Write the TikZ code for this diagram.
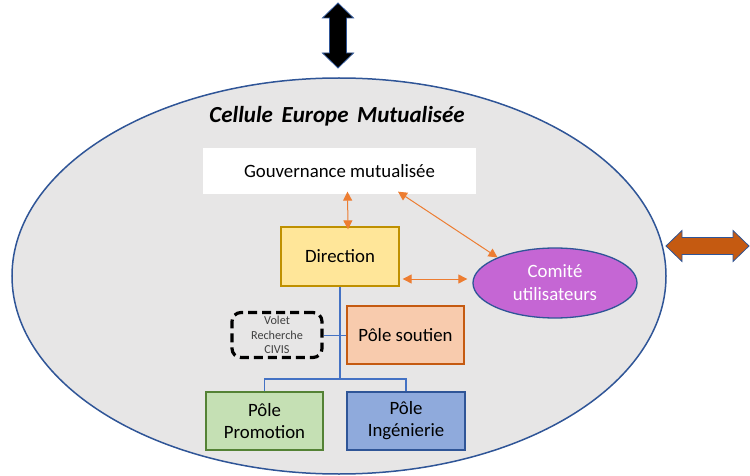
\documentclass[tikz,border=0pt]{standalone}
\usepackage{fontspec}
\setmainfont{Carlito}
\usetikzlibrary{arrows.meta,calc,shapes.geometric}
\definecolor{ellfill}{HTML}{E7E6E6}
\definecolor{ellline}{HTML}{2F5597}
\definecolor{orangeA}{HTML}{ED7D31}
\definecolor{orangeB}{HTML}{C55A11}
\definecolor{dirfill}{HTML}{FFE699}
\definecolor{dirline}{HTML}{BF9000}
\definecolor{soutfill}{HTML}{F8CBAD}
\definecolor{promfill}{HTML}{C5E0B4}
\definecolor{promline}{HTML}{548235}
\definecolor{ingfill}{HTML}{8FAADC}
\definecolor{ingline}{HTML}{2F5597}
\definecolor{comfill}{HTML}{C566D4}
\definecolor{treeline}{HTML}{4472C4}
\definecolor{grayt}{HTML}{404040}
\tikzset{
  box/.style={draw, line width=1.3pt, minimum width=#1, inner sep=0pt, align=center,
    font=\fontsize{18.8}{22}\selectfont},
  oarrow/.style={draw=orangeA, line width=1pt,
    {Triangle[length=9pt,width=9pt]}-{Triangle[length=9pt,width=9pt]}},
  tree/.style={draw=treeline, line width=1.4pt},
}
\begin{document}
\begin{tikzpicture}[x=1pt,y=-1pt]
\useasboundingbox (0,0) rectangle (750,476);
% big ellipse
\draw[fill=ellfill, draw=ellline, line width=1.5pt] (339,276) ellipse [x radius=327pt, y radius=198pt];
% top double arrow
\draw[fill=black, draw=ellline, line width=0.8pt]
  (338,3) -- (353.5,18) -- (346.5,18) -- (346.5,53) -- (353.5,53) -- (338,68)
  -- (322.5,53) -- (329.5,53) -- (329.5,18) -- (322.5,18) -- cycle;
% right double arrow
\draw[fill=orangeB, draw=ellline, line width=0.8pt]
  (666,246) -- (682,230.5) -- (682,237.5) -- (733,237.5) -- (733,230.5) -- (749,246)
  -- (733,261.5) -- (733,254.5) -- (682,254.5) -- (682,261.5) -- cycle;
% title
\node[font=\fontsize{23}{26}\selectfont\bfseries\itshape] (title) at (337,116)
  {Cellule\hspace{0.15em} Europe\hspace{0.15em} Mutualisée};
% boxes
\node[box=273pt, minimum height=46pt, fill=white, draw=none] (gouv) at (339.5,171) {Gouvernance mutualisée};
\node[box=118pt, minimum height=59pt, fill=dirfill, draw=dirline] (dir) at (340,256.5) {Direction};
\node[box=117pt, minimum height=58pt, fill=soutfill, draw=orangeB] (sout) at (405.5,335) {Pôle soutien};
\node[box=117pt, minimum height=58pt, fill=promfill, draw=promline] (promo) at (264.5,421) {Pôle\\Promotion};
\node[box=118pt, minimum height=58pt, fill=ingfill, draw=ingline] (inge) at (406,421) {Pôle\\Ingénierie};
\node[draw=black, line width=3.2pt, dash pattern=on 9pt off 5pt, rounded corners=9pt,
  minimum width=90pt, minimum height=45pt, inner sep=0pt, align=center, text=grayt,
  font=\fontsize{12.2}{14.8}\selectfont] (volet) at (277,335) {Volet\\Recherche\\CIVIS};
\node[ellipse, fill=comfill, draw=ellline, line width=1.3pt, minimum width=164pt, minimum height=70pt,
  inner sep=0pt, align=center, text=white, font=\fontsize{18.8}{23}\selectfont] (comite) at (555,283) {Comité\\utilisateurs};
% tree connectors
\coordinate (junc) at (340,379);
\draw[tree] (dir.south) -- (junc);
\draw[tree] (promo.north) |- (junc) -| (inge.north);
\draw[tree, line width=1pt] (volet.east) -- (sout.west);
% orange arrows
\draw[oarrow] ([xshift=8pt,yshift=3pt]gouv.south) -- ([xshift=8pt,yshift=-3pt]dir.north);
\draw[oarrow] ([xshift=58.5pt,yshift=3pt]gouv.south) -- (comite.156);
\draw[oarrow] ([xshift=3pt,yshift=-22.5pt]dir.east) -- ([xshift=-5pt,yshift=-22.5pt]dir.east -| comite.west);
\end{tikzpicture}
\end{document}
